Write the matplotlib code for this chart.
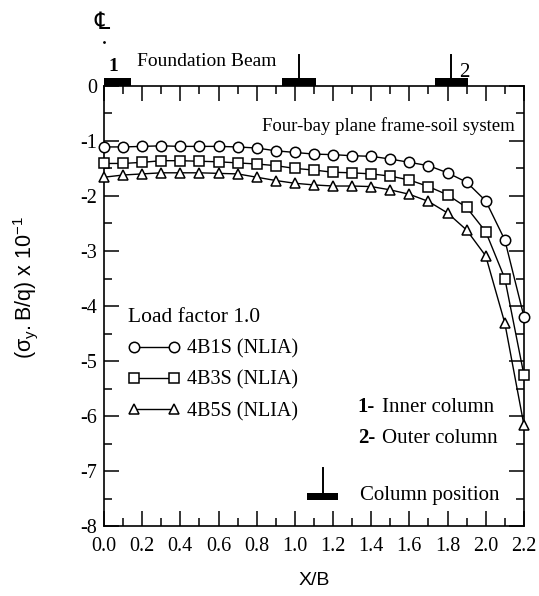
import matplotlib
matplotlib.use("Agg")
import matplotlib.pyplot as plt
from matplotlib.ticker import MultipleLocator

# data
xb = [0.0, 0.1, 0.2, 0.3, 0.4, 0.5, 0.6, 0.7, 0.8, 0.9, 1.0, 1.1,
      1.2, 1.3, 1.4, 1.5, 1.6, 1.7, 1.8, 1.9, 2.0, 2.1, 2.2]
s_4b1s = [-1.11, -1.11, -1.10, -1.09, -1.10, -1.10, -1.10, -1.11, -1.13, -1.18, -1.21, -1.24,
          -1.25, -1.27, -1.28, -1.33, -1.39, -1.45, -1.58, -1.75, -2.09, -2.80, -4.19]
s_4b3s = [-1.41, -1.41, -1.39, -1.36, -1.36, -1.37, -1.38, -1.40, -1.42, -1.45, -1.50, -1.53,
          -1.57, -1.58, -1.60, -1.64, -1.71, -1.83, -1.98, -2.21, -2.65, -3.50, -5.25]
s_4b5s = [-1.66, -1.62, -1.60, -1.58, -1.58, -1.58, -1.59, -1.60, -1.66, -1.72, -1.77, -1.80,
          -1.82, -1.82, -1.83, -1.89, -1.97, -2.10, -2.31, -2.62, -3.09, -4.31, -6.16]
labels = ["4B1S (NLIA)", "4B3S (NLIA)", "4B5S (NLIA)"]
markers = ["o", "s", "^"]

# column positions on the foundation beam (centre, half width)
columns = [(0.07, 0.07), (1.02, 0.09), (1.82, 0.085)]

plt.rcParams["axes.unicode_minus"] = False
plt.rcParams["mathtext.fontset"] = "custom"
plt.rcParams["mathtext.rm"] = "Liberation Sans"
plt.rcParams["mathtext.it"] = "Liberation Sans:italic"
serif = "Liberation Serif"
sans = "Liberation Sans"

fig = plt.figure(figsize=(5.39, 5.96), dpi=100)
ax = fig.add_axes([0.193, 0.117, 0.779, 0.739])

for ys, m, lab in zip([s_4b1s, s_4b3s, s_4b5s], markers, labels):
    ms = 7.5 if m == "o" else (6.5 if m == "s" else 7.5)
    ax.plot(xb, ys, color="black", lw=1.0, marker=m, ms=ms, mfc="white",
            mec="black", mew=1.1, label=lab, clip_on=False, zorder=3)

ax.set_xlim(0, 2.2)
ax.set_ylim(-8, 0)
ax.xaxis.set_major_locator(MultipleLocator(0.2))
ax.xaxis.set_minor_locator(MultipleLocator(0.1))
ax.yaxis.set_major_locator(MultipleLocator(1))
ax.yaxis.set_minor_locator(MultipleLocator(0.5))
ax.tick_params(which="both", direction="in", top=True, right=True, width=1.1)
ax.tick_params(which="major", length=11)
ax.tick_params(which="minor", length=6)
ax.tick_params(axis="x", which="major", pad=8)
ax.tick_params(axis="y", which="major", pad=5)
for sp in ax.spines.values():
    sp.set_linewidth(1.2)
ax.set_xticklabels([f"{v:.1f}" for v in ax.get_xticks()], fontfamily=serif, fontsize=14.5)
ax.set_yticks(range(-8, 1))
ax.set_yticklabels([str(v) for v in range(-8, 1)], fontfamily=serif, fontsize=14.5)

ax.set_xlabel("X/B", fontfamily=sans, fontsize=14, labelpad=11)
ax.set_ylabel(r"$\mathregular{(\sigma_y.B/q)\ x\ 10^{-1}}$", fontfamily=sans, fontsize=15.5)
ax.yaxis.set_label_coords(-0.152, 0.543)

# column blocks on top of the beam
for c, hw in columns:
    ax.fill_between([c - hw, c + hw], 0, 0.145, color="black", clip_on=False, lw=0)
for c in columns[1:]:
    ax.plot([c[0], c[0]], [0.145, 0.56], color="black", lw=1.4, clip_on=False)
ax.text(0.05, 0.2, "1", fontfamily=serif, fontsize=14, fontweight="bold", ha="center", va="bottom")
ax.text(1.86, 0.07, "2", fontfamily=serif, fontsize=15, ha="left", va="bottom")
ax.text(0.173, 0.44, "Foundation Beam", fontfamily=serif, fontsize=14, ha="left", va="center")
ax.text(-0.01, 1.16, "\u2104", fontfamily=["DejaVu Sans", "DejaVu Serif"], fontsize=17,
        ha="center", va="center")
ax.plot([0.0], [0.8], marker=".", color="black", ms=2, clip_on=False)

ax.text(2.153, -0.73, "Four-bay plane frame-soil system", fontfamily=serif, fontsize=13.5,
        ha="right", va="center")

leg = ax.legend(loc="upper left", bbox_to_anchor=(0.057, 0.495), frameon=False, numpoints=2,
                handlelength=2.6, handletextpad=0.35, borderpad=0, borderaxespad=0,
                labelspacing=0.6, title="Load factor 1.0", alignment="left",
                prop={"family": serif, "size": 14.5})
leg.get_title().set_fontfamily(serif)
leg.get_title().set_fontsize(15.5)

ax.text(1.33, -5.84, "1-", fontfamily=serif, fontsize=15, fontweight="bold", ha="left", va="center")
ax.text(1.456, -5.84, "Inner column", fontfamily=serif, fontsize=15, ha="left", va="center")
ax.text(1.33, -6.40, "2-", fontfamily=serif, fontsize=15, fontweight="bold", ha="left", va="center")
ax.text(1.456, -6.40, "Outer column", fontfamily=serif, fontsize=15, ha="left", va="center")

# column position key
ax.fill_between([1.063, 1.226], -7.53, -7.40, color="black", lw=0)
ax.plot([1.147, 1.147], [-6.95, -7.40], color="black", lw=1.4)
ax.text(1.34, -7.45, "Column position", fontfamily=serif, fontsize=15, ha="left", va="center")

fig.savefig("out.png", dpi=100)
